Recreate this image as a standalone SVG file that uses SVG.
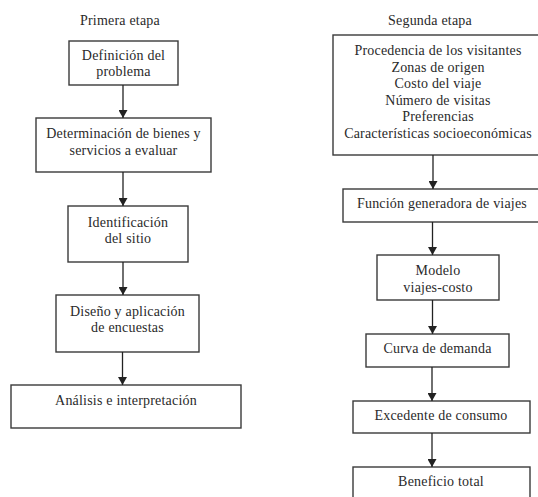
<svg xmlns="http://www.w3.org/2000/svg" width="538" height="497" viewBox="0 0 538 497">
  <defs>
    <marker id="arrow" viewBox="0 0 8 9" refX="8" refY="4.5" markerWidth="8" markerHeight="9" markerUnits="userSpaceOnUse" orient="auto">
      <path d="M0,0 L8,4.5 L0,9 Z" fill="#222"/>
    </marker>
  </defs>
  <style>
    .box { fill: #fff; stroke: #3a3a3a; stroke-width: 1.4; }
    .lbl { font-family: "Liberation Serif", "Times New Roman", serif; font-size: 14px; letter-spacing: 0.2px; fill: #2a2a2a; text-anchor: middle; }
    .edge { stroke: #222; stroke-width: 1.3; fill: none; marker-end: url(#arrow); }
  </style>
  <rect width="538" height="497" fill="#fff"/>

  <!-- column headings -->
  <text class="lbl" x="120" y="25">Primera etapa</text>
  <text class="lbl" x="430" y="25">Segunda etapa</text>

  <!-- first stage -->
  <g id="definicion">
    <rect class="box" x="69" y="41" width="109" height="44"/>
    <text class="lbl" x="123.5" y="60">Definición del</text>
    <text class="lbl" x="123.5" y="76">problema</text>
  </g>
  <g id="determinacion">
    <rect class="box" x="36" y="118" width="175" height="54"/>
    <text class="lbl" x="123.5" y="138">Determinación de bienes y</text>
    <text class="lbl" x="123.5" y="155">servicios a evaluar</text>
  </g>
  <g id="identificacion">
    <rect class="box" x="68" y="206" width="120" height="56"/>
    <text class="lbl" x="128" y="227">Identificación</text>
    <text class="lbl" x="128" y="243">del sitio</text>
  </g>
  <g id="diseno">
    <rect class="box" x="56" y="295" width="143" height="57"/>
    <text class="lbl" x="127.5" y="316">Diseño y aplicación</text>
    <text class="lbl" x="127.5" y="332">de encuestas</text>
  </g>
  <g id="analisis">
    <rect class="box" x="11" y="385" width="230" height="43"/>
    <text class="lbl" x="126" y="405">Análisis e interpretación</text>
  </g>

  <!-- second stage -->
  <g id="variables">
    <rect class="box" x="333" y="35" width="210" height="120"/>
    <text class="lbl" x="438" y="55">Procedencia de los visitantes</text>
    <text class="lbl" x="438" y="71.5">Zonas de origen</text>
    <text class="lbl" x="438" y="88">Costo del viaje</text>
    <text class="lbl" x="438" y="104.5">Número de visitas</text>
    <text class="lbl" x="438" y="121">Preferencias</text>
    <text class="lbl" x="438" y="138">Características socioeconómicas</text>
  </g>
  <g id="funcion">
    <rect class="box" x="343" y="189" width="200" height="33"/>
    <text class="lbl" x="442" y="208">Función generadora de viajes</text>
  </g>
  <g id="modelo">
    <rect class="box" x="377" y="255" width="122" height="45"/>
    <text class="lbl" x="438" y="275">Modelo</text>
    <text class="lbl" x="438" y="292">viajes-costo</text>
  </g>
  <g id="curva">
    <rect class="box" x="366" y="334" width="143" height="33"/>
    <text class="lbl" x="437.5" y="353">Curva de demanda</text>
  </g>
  <g id="excedente">
    <rect class="box" x="353" y="401" width="177" height="32"/>
    <text class="lbl" x="441" y="420">Excedente de consumo</text>
  </g>
  <g id="beneficio">
    <rect class="box" x="353" y="467" width="177" height="36"/>
    <text class="lbl" x="441" y="486">Beneficio total</text>
  </g>

  <!-- connectors -->
  <g id="connectors">
    <line class="edge" x1="123" y1="85" x2="123" y2="118"/>
    <line class="edge" x1="123" y1="172" x2="123" y2="206"/>
    <line class="edge" x1="123" y1="262" x2="123" y2="295"/>
    <line class="edge" x1="122.5" y1="352" x2="122.5" y2="385"/>
    <line class="edge" x1="433" y1="155" x2="433" y2="189"/>
    <line class="edge" x1="432.5" y1="222" x2="432.5" y2="255"/>
    <line class="edge" x1="432.5" y1="300" x2="432.5" y2="334"/>
    <line class="edge" x1="432" y1="367" x2="432" y2="401"/>
    <line class="edge" x1="432" y1="433" x2="432" y2="467"/>
  </g>
</svg>
